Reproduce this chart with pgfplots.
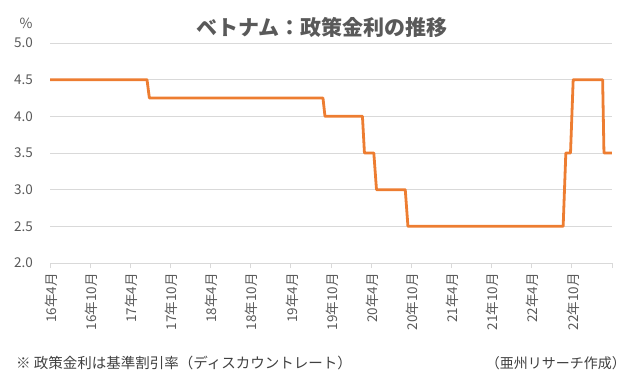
\documentclass[border=0pt]{standalone}
\usepackage{pgfplots}
\pgfplotsset{compat=1.18}
\usepackage{fontspec}
\setmainfont{Noto Sans CJK JP}
\definecolor{lineor}{HTML}{ED7D31}
\definecolor{gridc}{HTML}{D9D9D9}
\definecolor{txt}{HTML}{595959}
\definecolor{txtd}{HTML}{404040}
\begin{document}
\begin{tikzpicture}[x=1pt,y=1pt]
\path[use as bounding box] (0,0) rectangle (643,378);
\begin{axis}[
  at={(50pt,115pt)}, anchor=south west,
  scale only axis, width=562pt, height=220pt,
  xmin=0, xmax=84, ymin=2, ymax=5,
  ytick={2,2.5,...,5},
  yticklabel style={/pgf/number format/fixed, /pgf/number format/fixed zerofill, /pgf/number format/precision=1, /pgf/number format/assume math mode=true, font=\fontsize{13.5}{15}\selectfont, text=txt, inner sep=0pt, xshift=-12pt},
  xtick={0,6,...,84},
  xticklabels={16年4月,16年10月,17年4月,17年10月,18年4月,18年10月,19年4月,19年10月,20年4月,20年10月,21年4月,21年10月,22年4月,22年10月,{}},
  xticklabel style={rotate=90, anchor=east, font=\fontsize{13.5}{15}\selectfont, text=txt, inner sep=0pt, xshift=-5pt, yshift=-1pt},
  ymajorgrids, grid style={gridc, line width=0.8pt},
  axis x line*=bottom, axis y line*=left,
  x axis line style={gridc, line width=0.8pt, -},
  y axis line style={draw=none},
  tick align=outside, major tick length=5pt,
  xtick style={gridc, line width=0.8pt},
  ytick style={draw=none},
  clip=false,
]
\addplot[lineor, line width=2.8pt, line join=round] coordinates {
(0,4.5) (14.5,4.5) (14.85,4.25) (40.8,4.25) (41.1,4.0) (46.7,4.0) (47.0,3.5)
(48.4,3.5) (48.8,3.0) (53.1,3.0) (53.5,2.5) (76.7,2.5) (77.1,3.5) (77.8,3.5)
(78.2,4.5) (82.6,4.5) (82.8,3.5) (84,3.5)
};
\end{axis}
\node[text=txt, font=\fontsize{21}{24}\selectfont\bfseries] at (322,351) {ベトナム：政策金利の推移};
\node[text=txt, font=\fontsize{14}{16}\selectfont] at (26,355) {\%};
\node[text=txtd, font=\fontsize{14.5}{16}\selectfont, anchor=west, inner sep=0pt] at (16,15) {※ 政策金利は基準割引率（ディスカウントレート）};
\node[text=txtd, font=\fontsize{14}{16}\selectfont, anchor=east, inner sep=0pt] at (626,15) {（亜州リサーチ作成）};
\end{tikzpicture}
\end{document}
